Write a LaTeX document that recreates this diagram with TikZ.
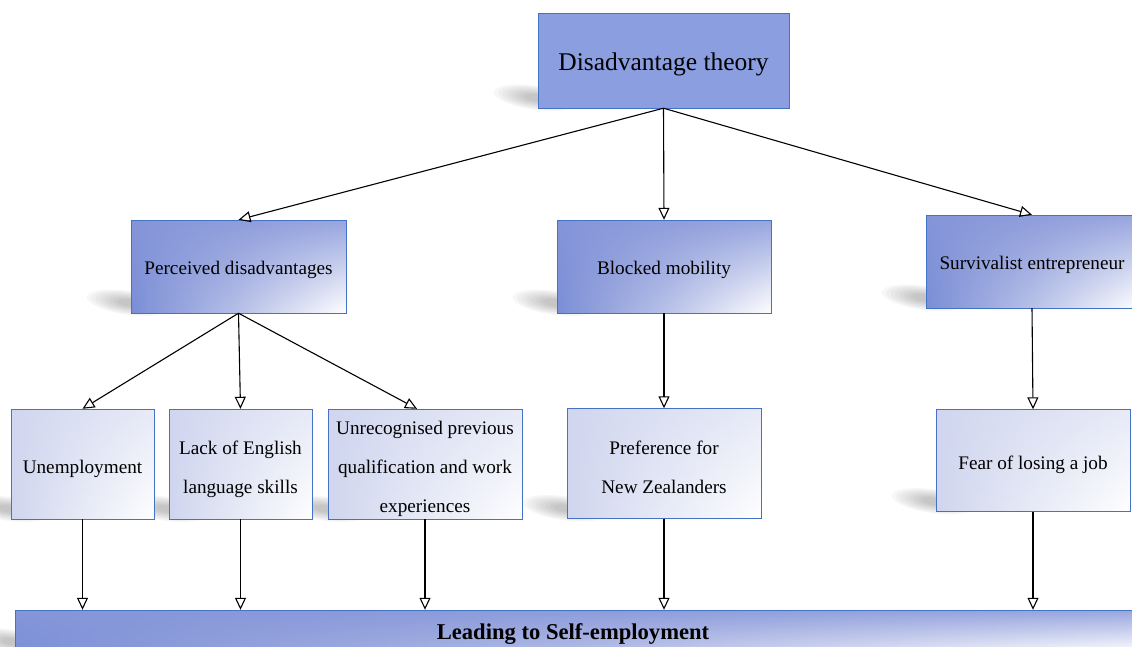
\documentclass[tikz,border=0pt]{standalone}
\usepackage{fontspec}
\setmainfont{Liberation Serif}
\usetikzlibrary{arrows.meta,calc,backgrounds,fadings}

\definecolor{bordblue}{HTML}{4472C4}
\definecolor{topfill}{HTML}{8A9EE0}
\definecolor{midblue}{HTML}{7B8ED6}
\definecolor{midmix}{HTML}{B8C1E8}
\definecolor{bandblue}{HTML}{8696D9}
\definecolor{paleblue}{HTML}{D0D6EF}
\definecolor{palemix}{HTML}{E8EBF7}
\definecolor{barblue}{HTML}{7D91D7}
\definecolor{barmix}{HTML}{B3BCE6}

% darker band along the top edge of the shaded boxes
\tikzfading[name=topband, top color=transparent!15, middle color=transparent!70,
  bottom color=transparent!100]

\tikzset{
  boxline/.style={postaction={draw=bordblue, line width=1pt}},
  topbox/.style={inner sep=0pt, fill=topfill, minimum width=251pt,
    minimum height=95pt, boxline},
  midbox/.style={inner sep=0pt, left color=midblue, right color=white,
    middle color=midmix, postaction={fill=bandblue, path fading=topband},
    minimum height=93pt, boxline},
  lowbox/.style={inner sep=0pt, left color=paleblue, right color=white,
    middle color=palemix, postaction={fill=paleblue, path fading=topband, opacity=0.6},
    minimum height=110pt, boxline},
  barbox/.style={inner sep=0pt, left color=barblue, right color=white,
    middle color=barmix, postaction={fill=bandblue, path fading=topband},
    minimum height=42pt, boxline},
  lbl/.style={inner sep=0pt, align=center, text=black},
  toptext/.style={lbl, font=\fontsize{25.5}{30}\selectfont},
  boxtext/.style={lbl, font=\fontsize{19.2}{39}\selectfont},
  bartext/.style={lbl, font=\fontsize{22.6}{26}\selectfont\bfseries},
  arr/.style={-{Triangle[open, length=12pt, width=11pt]}, line width=1.1pt},
}

% soft perspective shadow falling off the lower-left corner of a node
\newcommand\dropshade[1]{%
  \foreach \k in {0,...,7}{%
    \fill[black, opacity=0.032, rotate around={-8:($(#1.south west)+(-4,-10)$)}]
      ($(#1.south west)+(-4,-10)$) ellipse [x radius=42pt-4.5pt*\k, y radius=12pt-1.2pt*\k];
  }}

\begin{document}
\begin{tikzpicture}[x=1pt, y=-1pt]
\useasboundingbox (0,0) rectangle (1132,646);
\clip (0,0) rectangle (1132,646);

% root
\node[topbox] (dt) at (663.5,60.5) {};
\node[toptext] at ([yshift=-4pt]dt.center) {Disadvantage theory};

% second level
\node[midbox, minimum width=215pt] (pd) at (238.5,266.5) {};
\node[midbox, minimum width=214pt] (bm) at (664,266.5) {};
\node[midbox, minimum width=212pt] (se) at (1032,261.5) {};
\node[boxtext] at ([yshift=-3pt]pd.center) {Perceived disadvantages};
\node[boxtext] at ([yshift=-3pt]bm.center) {Blocked mobility};
\node[boxtext] at ([yshift=-3pt]se.center) {Survivalist entrepreneur};

% third level
\node[lowbox, minimum width=143pt] (un) at (82.5,464) {};
\node[lowbox, minimum width=143pt] (le) at (240.5,464) {};
\node[lowbox, minimum width=194pt] (uq) at (425,464) {};
\node[lowbox, minimum width=194pt] (pf) at (664,463.5) {};
\node[lowbox, minimum width=194pt, minimum height=102pt] (fj) at (1033,460.5) {};
\node[boxtext] at ([yshift=-5pt]un.center) {Unemployment};
\node[boxtext] at ([yshift=-5pt]le.center) {Lack of English\\language skills};
\node[boxtext] at ([yshift=-5pt]uq.center) {Unrecognised previous\\qualification and work\\experiences};
\node[boxtext] at ([yshift=-4pt]pf.center) {Preference for\\New Zealanders};
\node[boxtext] at ([yshift=-4pt]fj.center) {Fear of losing a job};

% outcome bar
\node[barbox, minimum width=1125pt] (ls) at (577.5,631) {};
\node[bartext] at ([xshift=-4.5pt, yshift=-3pt]ls.center) {Leading to Self-employment};

% shadows behind the boxes
\begin{pgfonlayer}{background}
  \foreach \n in {dt,pd,bm,se,un,le,uq,pf,fj,ls} {\dropshade{\n}}
\end{pgfonlayer}

% connectors
\draw[arr] (dt.south) -- (pd.north);
\draw[arr] (dt.south) -- (bm.north);
\draw[arr] (dt.south) -- (se.north);
\draw[arr] (pd.south) -- (un.north);
\draw[arr] (pd.south) -- (le.north);
\draw[arr] (pd.south) -- ([xshift=-8pt]uq.north);
\draw[arr] (bm.south) -- (pf.north);
\draw[arr] (se.south) -- (fj.north);
\foreach \n in {un,le,uq,pf,fj} {\draw[arr] (\n.south) -- (\n.south |- ls.north);}
\end{tikzpicture}
\end{document}
